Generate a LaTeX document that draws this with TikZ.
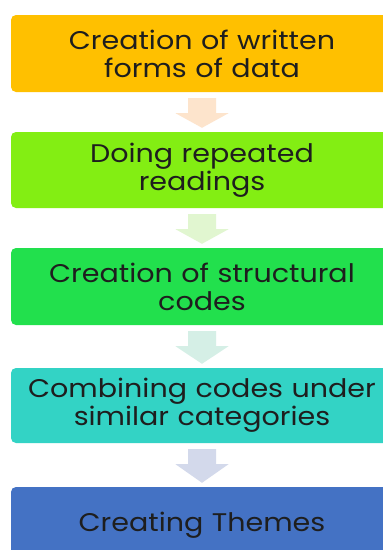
\documentclass[tikz,border=0pt]{standalone}
\usepackage{fontspec}
\setmainfont[FakeStretch=1.12]{Poppins}
\usetikzlibrary{calc}
\definecolor{c1}{HTML}{FFC000}
\definecolor{c2}{HTML}{83EE13}
\definecolor{c3}{HTML}{22E04D}
\definecolor{c4}{HTML}{33D3C5}
\definecolor{c5}{HTML}{4472C4}
\definecolor{a1}{HTML}{FDE4CC}
\definecolor{a2}{HTML}{E1F6D0}
\definecolor{a3}{HTML}{D5EFE6}
\definecolor{a4}{HTML}{D3D9EB}
\definecolor{txt}{HTML}{1E1E1E}
\tikzset{
  stepbox/.style={rounded corners=5pt, minimum width=382pt, inner sep=0pt,
    text width=378pt, align=center, text=txt,
    font=\fontsize{25.5}{28}\selectfont},
}
\newcommand{\blkarrow}[3]{%
  \fill[#3] ($(#1.south)+(-14,-6)$) -- ($(#1.south)+(14,-6)$) --
    ($(#1.south)+(14,-21)$) -- ($(#1.south)+(26.5,-21)$) --
    ($(#2.north)+(0,4)$) -- ($(#1.south)+(-26.5,-21)$) --
    ($(#1.south)+(-14,-21)$) -- cycle;}
\begin{document}
\begin{tikzpicture}[x=1pt,y=1pt]
\useasboundingbox (0,0) rectangle (383,-550);
\clip (0,0) rectangle (383,-550);
\fill[white] (0,0) rectangle (383,-550);
\node[stepbox, fill=c1, minimum height=77pt] (b1) at (202,-53.5) {Creation of written\\forms of data};
\node[stepbox, fill=c2, minimum height=76pt] (b2) at (202,-170) {Doing repeated\\readings};
\node[stepbox, fill=c3, minimum height=77pt] (b3) at (202,-286.5) {Creation of structural\\codes};
\node[stepbox, fill=c4, minimum height=75pt] (b4) at (202,-405.5) {Combining codes under\\similar categories};
\node[stepbox, fill=c5, minimum height=76pt] (b5) at (202,-525) {Creating Themes};
\blkarrow{b1}{b2}{a1}
\blkarrow{b2}{b3}{a2}
\blkarrow{b3}{b4}{a3}
\blkarrow{b4}{b5}{a4}
\end{tikzpicture}
\end{document}
